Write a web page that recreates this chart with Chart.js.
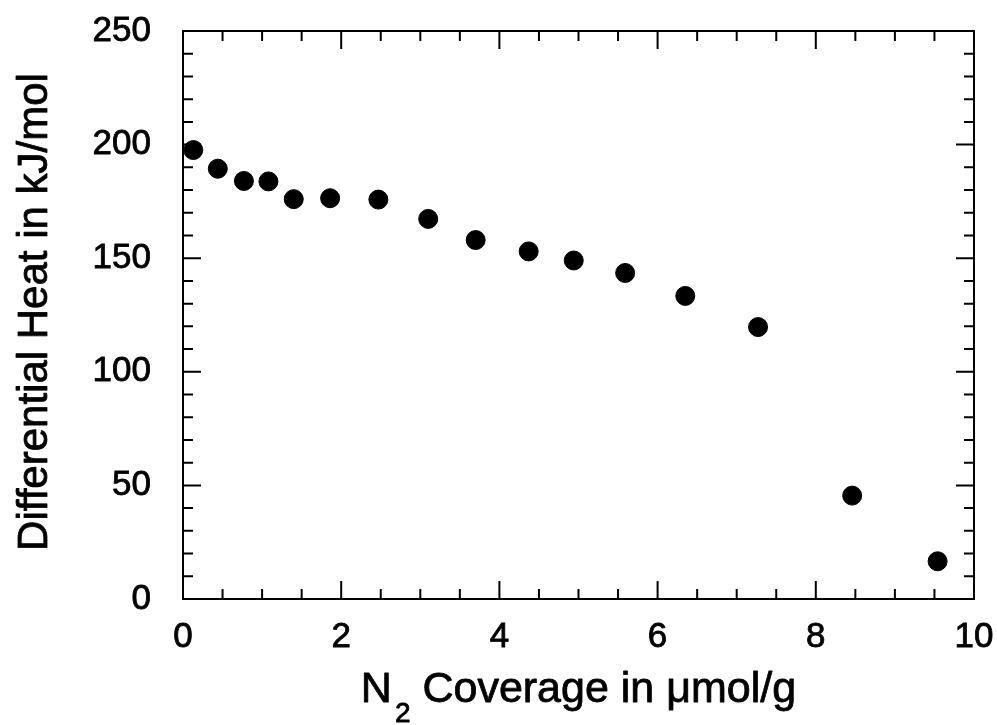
<!DOCTYPE html>
<html>
<head>
<meta charset="utf-8">
<script src="https://cdn.jsdelivr.net/npm/chart.js@4/dist/chart.umd.min.js"></script>
<style>
  html, body { margin: 0; padding: 0; background: #fff; }
  #wrap { width: 997px; height: 725px; }
</style>
</head>
<body>
<div id="wrap"><canvas id="c" width="997" height="725"></canvas></div>
<script>
// ---- data ----
const coverage = [0.13, 0.44, 0.77, 1.08, 1.40, 1.86, 2.47, 3.10, 3.70, 4.37, 4.94, 5.59, 6.35, 7.27, 8.46, 9.54];
const diffHeat = [197.6, 189.4, 184.0, 183.8, 176.0, 176.4, 175.8, 167.3, 158.0, 153.0, 149.0, 143.5, 133.4, 119.7, 45.5, 16.6];
const xRange = [0, 10];
const yRange = [0, 250];
const xMajorStep = 2, xMinorStep = 0.5;
const yMajorStep = 50, yMinorStep = 10;
const xTitleMain = "N";
const xTitleSub = "2";
const xTitleRest = " Coverage in \u03bcmol/g";
const yTitle = "Differential Heat in kJ/mol";

const FONT = '"Liberation Sans", Arial, Helvetica, sans-serif';

function isMult(v, step) {
  const r = Math.abs(v / step - Math.round(v / step));
  return r < 1e-6;
}

function heavyText(ctx, txt, x, y) {
  ctx.fillText(txt, x, y);
  ctx.strokeText(txt, x, y);
}

const framePlugin = {
  id: 'framePlugin',
  afterDraw(chart) {
    const ctx = chart.ctx;
    const a = chart.chartArea;
    const xs = chart.scales.x, ys = chart.scales.y;
    ctx.save();
    ctx.strokeStyle = '#000';
    ctx.lineWidth = 2;
    ctx.strokeRect(a.left, a.top, a.right - a.left, a.bottom - a.top);
    ctx.beginPath();
    xs.ticks.forEach(t => {
      const px = xs.getPixelForValue(t.value);
      const len = isMult(t.value, xMajorStep) ? 18 : 10;
      ctx.moveTo(px, a.bottom); ctx.lineTo(px, a.bottom - len);
      ctx.moveTo(px, a.top); ctx.lineTo(px, a.top + len);
    });
    ys.ticks.forEach(t => {
      const py = ys.getPixelForValue(t.value);
      const len = isMult(t.value, yMajorStep) ? 18 : 10;
      ctx.moveTo(a.left, py); ctx.lineTo(a.left + len, py);
      ctx.moveTo(a.right, py); ctx.lineTo(a.right - len, py);
    });
    ctx.stroke();

    // axis titles
    ctx.fillStyle = '#000';
    ctx.lineWidth = 0.8;
    ctx.lineJoin = 'round';
    ctx.textBaseline = 'alphabetic';
    const mainFont = '43px ' + FONT;
    const subFont = '28px ' + FONT;
    ctx.font = mainFont;
    const wN = ctx.measureText(xTitleMain).width;
    const wRest = ctx.measureText(xTitleRest).width;
    ctx.font = subFont;
    const wSub = ctx.measureText(xTitleSub).width;
    const gap = 3;
    const total = wN + gap + wSub + wRest;
    const cx = (a.left + a.right) / 2;
    let x0 = cx - total / 2;
    const base = 702;
    ctx.textAlign = 'left';
    ctx.font = mainFont;
    heavyText(ctx, xTitleMain, x0, base);
    ctx.font = subFont;
    heavyText(ctx, xTitleSub, x0 + wN + gap, base + 20);
    ctx.font = mainFont;
    heavyText(ctx, xTitleRest, x0 + wN + gap + wSub, base);

    ctx.save();
    ctx.translate(47, (a.top + a.bottom) / 2 - 3);
    ctx.rotate(-Math.PI / 2);
    ctx.textAlign = 'center';
    ctx.font = '42px ' + FONT;
    heavyText(ctx, yTitle, 0, 0);
    ctx.restore();
    ctx.restore();
  }
};

new Chart(document.getElementById('c'), {
  type: 'scatter',
  data: {
    datasets: [{
      data: coverage.map((x, i) => ({ x: x, y: diffHeat[i] })),
      backgroundColor: '#000',
      borderColor: '#000',
      pointRadius: 9.5,
      pointHoverRadius: 9.5,
      showLine: false
    }]
  },
  options: {
    responsive: false,
    animation: false,
    events: [],
    layout: { padding: { left: 0, right: 23, top: 31, bottom: 0 } },
    plugins: { legend: { display: false }, tooltip: { enabled: false } },
    scales: {
      x: {
        type: 'linear',
        min: xRange[0], max: xRange[1],
        grid: { display: false, drawTicks: false },
        border: { display: false },
        ticks: {
          stepSize: xMinorStep,
          autoSkip: false,
          maxRotation: 0,
          padding: 17,
          color: '#000',
          textStrokeColor: '#000',
          textStrokeWidth: 0.8,
          font: { family: FONT, size: 35 },
          callback: v => isMult(v, xMajorStep) ? String(Math.round(v)) : ''
        },
        afterFit: s => { s.height = 126; s.paddingLeft = 0; s.paddingRight = 0; }
      },
      y: {
        type: 'linear',
        min: yRange[0], max: yRange[1],
        grid: { display: false, drawTicks: false },
        border: { display: false },
        ticks: {
          stepSize: yMinorStep,
          autoSkip: false,
          padding: 32,
          color: '#000',
          textStrokeColor: '#000',
          textStrokeWidth: 0.8,
          font: { family: FONT, size: 35 },
          callback: v => isMult(v, yMajorStep) ? String(Math.round(v)) : ''
        },
        afterFit: s => { s.width = 183; s.paddingTop = 0; s.paddingBottom = 0; }
      }
    }
  },
  plugins: [framePlugin]
});
</script>
</body>
</html>
